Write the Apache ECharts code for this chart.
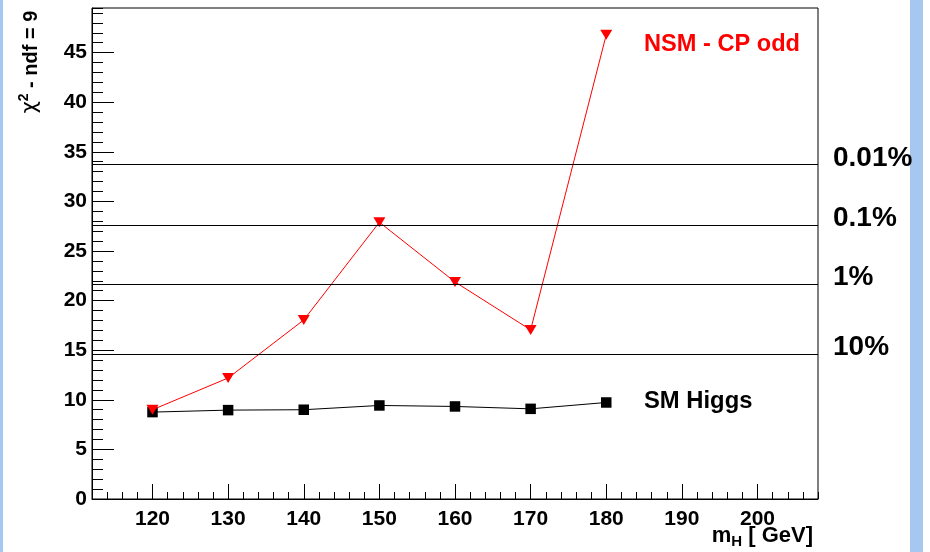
<!DOCTYPE html>
<html><head><meta charset="utf-8">
<script src="https://cdn.jsdelivr.net/npm/echarts@6/dist/echarts.min.js"></script>
<style>html,body{margin:0;padding:0;background:#fff}#c{width:930px;height:552px}</style>
</head><body><div id="c"></div>
<script>
const masses = [120, 130, 140, 150, 160, 170, 180];
const smHiggs = [8.76, 8.96, 9.0, 9.43, 9.33, 9.09, 9.73];
const nsmCPodd = [9.0, 12.2, 18.05, 27.9, 21.88, 17.05, 46.8];
const clLevels = [33.7, 27.6, 21.65, 14.6];
const clLabels = ['0.01%', '0.1%', '1%', '10%'];
const seriesNames = ['SM Higgs', 'NSM - CP odd'];

const FONT = '"Liberation Sans", Arial, Helvetica, sans-serif';
const chart = echarts.init(document.getElementById('c'));

const pairs = (ys) => masses.map((m, i) => [m, ys[i]]);

chart.setOption({
  animation: false,
  backgroundColor: '#fff',
  grid: { left: 92, right: 112, top: 8, bottom: 53, show: true, borderColor: '#000', borderWidth: 1, backgroundColor: 'transparent' },
  xAxis: [
    {
      type: 'value', min: 112, max: 208, splitNumber: 10,
      axisLine: { show: true, lineStyle: { color: '#000', width: 1 } },
      axisTick: { show: true, inside: true, length: 15, lineStyle: { color: '#000', width: 1 } },
      axisLabel: { show: true, showMinLabel: false, showMaxLabel: false, color: '#000', fontFamily: FONT, fontWeight: 'bold', fontSize: 21, margin: 10 },
      splitLine: { show: false }
    },
    {
      type: 'value', min: 112, max: 208, interval: 2, position: 'bottom',
      axisLine: { show: false },
      axisTick: { show: true, inside: true, length: 7, lineStyle: { color: '#000', width: 1 } },
      axisLabel: { show: false },
      splitLine: { show: false }
    }
  ],
  yAxis: [
    {
      type: 'value', min: 0, max: 49.5, interval: 5,
      axisLine: { show: true, lineStyle: { color: '#000', width: 1 } },
      axisTick: { show: true, inside: true, length: 22, lineStyle: { color: '#000', width: 1 } },
      axisLabel: { show: true, showMaxLabel: false, color: '#000', fontFamily: FONT, fontWeight: 'bold', fontSize: 21, margin: 5 },
      splitLine: { show: false }
    },
    {
      type: 'value', min: 0, max: 49.5, interval: 1, position: 'left',
      axisLine: { show: false },
      axisTick: { show: true, inside: true, length: 11, lineStyle: { color: '#000', width: 1 } },
      axisLabel: { show: false },
      splitLine: { show: false }
    }
  ],
  series: [
    {
      name: seriesNames[0], type: 'line', data: pairs(smHiggs),
      symbol: 'rect', symbolSize: 10.5, showAllSymbol: true,
      itemStyle: { color: '#000' }, lineStyle: { color: '#000', width: 1 }, z: 3,
      markLine: {
        silent: true, symbol: ['none', 'none'],
        lineStyle: { color: '#000', type: 'solid', width: 1 },
        label: { show: true, position: 'end', distance: 15, formatter: '{b}', color: '#000', fontFamily: FONT, fontWeight: 'bold', fontSize: 28, lineHeight: 13, verticalAlign: 'bottom', align: 'left' },
        emphasis: { disabled: true },
        data: clLevels.map((v, i) => ({ yAxis: v, name: clLabels[i] }))
      }
    },
    {
      name: seriesNames[1], type: 'line', data: pairs(nsmCPodd),
      symbol: 'triangle', symbolRotate: 180, symbolSize: [12, 10], showAllSymbol: true,
      itemStyle: { color: '#ff0000' }, lineStyle: { color: '#ff0000', width: 1 }, z: 4
    }
  ],
  graphic: [
    { type: 'rect', left: 0, top: 0, shape: { width: 3, height: 552 }, style: { fill: '#a6c8f0' }, silent: true },
    { type: 'rect', left: 910, top: 0, shape: { width: 13, height: 552 }, style: { fill: '#a6c8f0' }, silent: true },
    { type: 'text', x: 644, y: 44, style: { text: seriesNames[1], fill: '#ff0000', font: 'bold 23.6px ' + FONT, align: 'left', verticalAlign: 'middle' } },
    { type: 'text', x: 644, y: 401, style: { text: seriesNames[0], fill: '#000', font: 'bold 23.8px ' + FONT, align: 'left', verticalAlign: 'middle' } },
    { type: 'text', x: 31, y: 62, rotation: Math.PI / 2,
      style: { text: '{chi|χ}{sup|2}{t| - ndf = 9}', align: 'center', verticalAlign: 'middle',
        rich: {
          chi: { fontFamily: 'DejaVu Sans', fontSize: 21, fill: '#000', fontWeight: 'normal' },
          sup: { fontFamily: FONT, fontSize: 14, fontWeight: 'bold', fill: '#000', padding: [0, 0, 14, 0] },
          t: { fontFamily: FONT, fontSize: 20, fontWeight: 'bold', fill: '#000' }
        } } },
    { type: 'text', x: 813, y: 536,
      style: { text: '{m|m}{sub|H}{t| [ GeV]}', align: 'right', verticalAlign: 'middle',
        rich: {
          m: { fontFamily: FONT, fontSize: 22, fontWeight: 'bold', fill: '#000' },
          sub: { fontFamily: FONT, fontSize: 15, fontWeight: 'bold', fill: '#000', padding: [12, 0, 0, 0] },
          t: { fontFamily: FONT, fontSize: 22, fontWeight: 'bold', fill: '#000' }
        } } }
  ]
});
</script>
</body></html>
